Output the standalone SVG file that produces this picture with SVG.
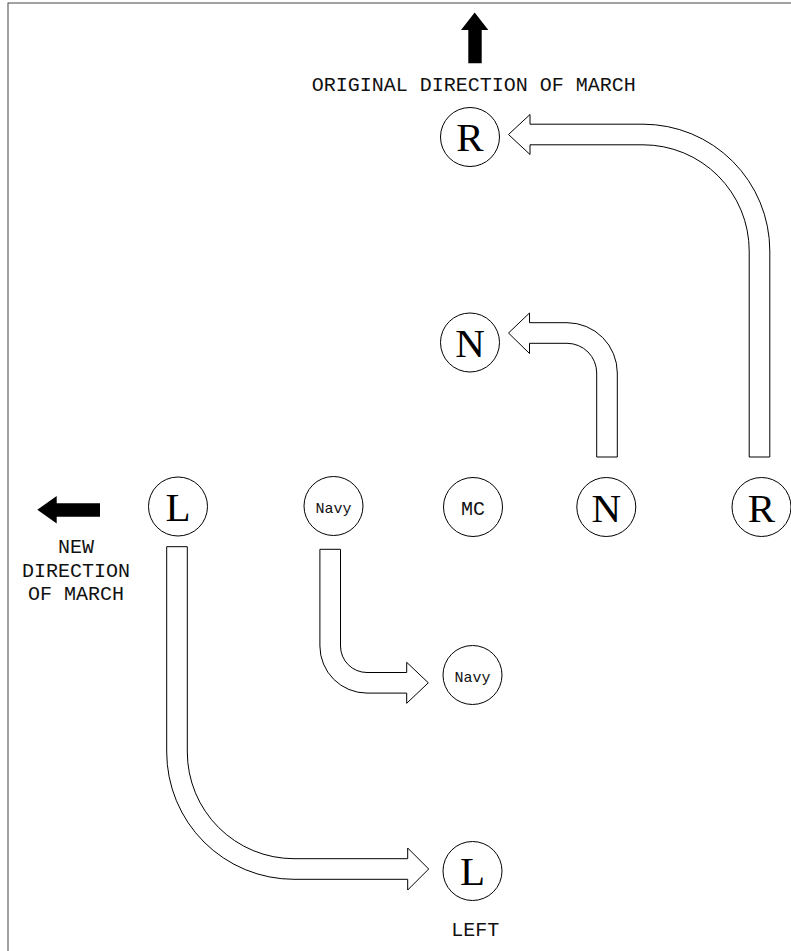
<svg xmlns="http://www.w3.org/2000/svg" width="791" height="951" viewBox="0 0 791 951">
<style>
.node circle{fill:#fff;stroke:#000;stroke-width:1}
.big{font-family:"Liberation Serif","Times New Roman",serif;font-size:41px;text-anchor:middle;fill:#000}
.mid{font-family:"Liberation Mono","Courier New",monospace;font-size:20px;text-anchor:middle;fill:#111}
.small{font-family:"Liberation Mono","Courier New",monospace;font-size:15px;text-anchor:middle;fill:#111}
.label{font-family:"Liberation Mono","Courier New",monospace;font-size:20px;text-anchor:middle;fill:#111}
.move{fill:#fff;stroke:#000;stroke-width:1;stroke-linejoin:miter}
.dir{fill:#000;stroke:none}
</style>
<rect x="0" y="0" width="791" height="951" fill="#fff"/>
<rect x="8" y="3" width="820" height="980" fill="none" stroke="#444" stroke-width="1"/>

<g id="orig-direction">
<polygon class="dir" points="474.7,12.5 488.3,30 481.7,30 481.7,63.3 468.3,63.3 468.3,30 461,30"/>
<text class="label" x="473.7" y="90.5">ORIGINAL DIRECTION OF MARCH</text>
</g>

<g id="new-direction">
<polygon class="dir" points="37.3,509.8 56.7,496 56.7,503.3 100,503.3 100,516.7 56.7,516.7 56.7,523.5"/>
<text class="label" x="76" y="553.3">NEW</text>
<text class="label" x="76" y="576.7">DIRECTION</text>
<text class="label" x="76" y="599.5">OF MARCH</text>
</g>

<g id="connectors">
<path class="move" d="M769.8,457 L769.8,251 A126.8,126.8 0 0 0 643,124.2 L530,124.2 L530,114.5 L508.5,134.5 L530,154.5 L530,144.8 L643,144.8 A106.2,106.2 0 0 1 749.2,251 L749.2,457 Z"/>
<path class="move" d="M617.3,457 L617.3,373 A50.3,50.3 0 0 0 567,322.7 L529.5,322.7 L529.5,313 L508.5,333 L529.5,353.5 L529.5,343.3 L567,343.3 A29.7,29.7 0 0 1 596.7,373 L596.7,457 Z"/>
<path class="move" d="M319.9,549.3 L319.9,646 A47.1,47.1 0 0 0 367,693.1 L406.7,693.1 L406.7,703.3 L428.3,682.8 L406.7,662.3 L406.7,672.5 L367,672.5 A26.5,26.5 0 0 1 340.5,646 L340.5,549.3 Z"/>
<path class="move" d="M166.7,546.7 L166.7,752 A127.3,127.3 0 0 0 294,879.3 L407.7,879.3 L407.7,890 L428.7,869 L407.7,848 L407.7,858.7 L294,858.7 A106.7,106.7 0 0 1 187.3,752 L187.3,546.7 Z"/>
</g>

<g id="node-R-new" class="node"><circle cx="470" cy="137" r="29.5"/><text class="big" x="470" y="150.5">R</text></g>
<g id="node-N-new" class="node"><circle cx="470" cy="342.5" r="29.5"/><text class="big" x="470" y="357">N</text></g>
<g id="node-L-old" class="node"><circle cx="178" cy="506.5" r="29.5"/><text class="big" x="178" y="521">L</text></g>
<g id="node-Navy-old" class="node"><circle cx="333.5" cy="506" r="29.5"/><text class="small" x="333.5" y="513.3">Navy</text></g>
<g id="node-MC" class="node"><circle cx="473" cy="507" r="29.5"/><text class="mid" x="473" y="515">MC</text></g>
<g id="node-N-old" class="node"><circle cx="606.3" cy="507" r="29.5"/><text class="big" x="606.3" y="521.5">N</text></g>
<g id="node-R-old" class="node"><circle cx="761.5" cy="507" r="29.5"/><text class="big" x="761.5" y="521.5">R</text></g>
<g id="node-Navy-new" class="node"><circle cx="472.5" cy="675" r="29.5"/><text class="small" x="472.5" y="682.3">Navy</text></g>
<g id="node-L-new" class="node"><circle cx="472.5" cy="871" r="29.5"/><text class="big" x="472.5" y="885">L</text></g>

<g id="left-label"><text class="label" x="475.3" y="935.7">LEFT</text></g>
</svg>
